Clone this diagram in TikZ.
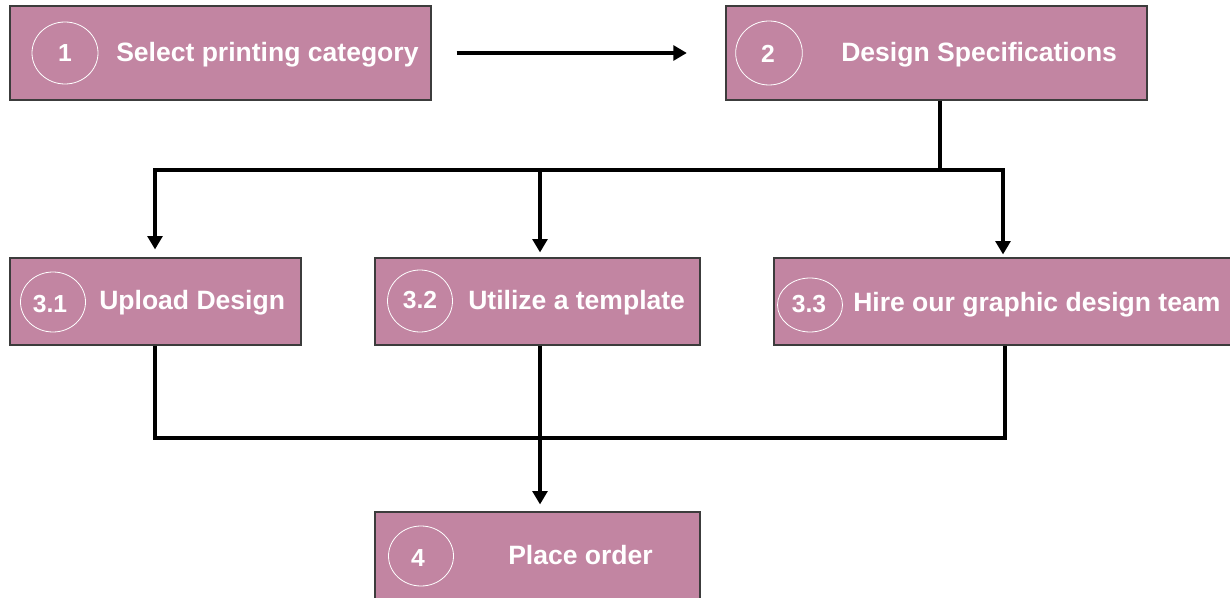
\documentclass[tikz,border=0pt]{standalone}
\usepackage{fontspec}
\setmainfont{Liberation Sans}
\usetikzlibrary{arrows.meta,shapes.geometric}
\definecolor{boxfill}{HTML}{C285A2}
\definecolor{boxline}{HTML}{3C3C3C}
\begin{document}
\begin{tikzpicture}[x=0.75pt,y=-0.75pt,
  stepbox/.style={draw=boxline,line width=0.8pt,fill=boxfill,rectangle,inner sep=0pt},
  numring/.style={draw=white,line width=0.6pt,ellipse,inner sep=0pt},
  numtext/.style={anchor=base,inner sep=0pt,text=white,font=\bfseries\fontsize{18.5}{20}\selectfont},
  steptext/.style={anchor=base west,inner sep=0pt,text=white,font=\bfseries\fontsize{19.9}{23}\selectfont},
  conn/.style={line width=3pt,black},
  arr/.style={conn,-{Triangle[length=10pt,width=11pt]}}]
\useasboundingbox (0,0) rectangle (1230,598);
\clip (0,0) rectangle (1230,598);
% boxes
\node[stepbox,minimum width=315.75pt,minimum height=70.5pt] (b1) at (220.5,53) {};
\node[stepbox,minimum width=315.75pt,minimum height=70.5pt] (b2) at (936.5,53) {};
\node[stepbox,minimum width=218.25pt,minimum height=65.25pt] (b31) at (155.5,301.5) {};
\node[stepbox,minimum width=243.75pt,minimum height=65.25pt] (b32) at (537.5,301.5) {};
\node[stepbox,minimum width=349.5pt,minimum height=65.25pt] (b33) at (1007,301.5) {};
\node[stepbox,minimum width=243.75pt,minimum height=75pt] (b4) at (537.5,562) {};
% rings
\node[numring,minimum width=49.5pt,minimum height=46.5pt] (r1) at (65,53) {};
\node[numring,minimum width=50pt,minimum height=48pt] (r2) at (769,53) {};
\node[numring,minimum width=48.75pt,minimum height=45pt] (r31) at (53,302) {};
\node[numring,minimum width=48.75pt,minimum height=46.5pt] (r32) at (420,301) {};
\node[numring,minimum width=48.75pt,minimum height=40.5pt] (r33) at (810,305) {};
\node[numring,minimum width=48.75pt,minimum height=45pt] (r4) at (421,556) {};
% numbers
\node[numtext] (n1) at (65,62) {1};
\node[numtext] (n2) at (768,63) {2};
\node[numtext] (n31) at (50,312) {3.1};
\node[numtext] (n32) at (420,309) {3.2};
\node[numtext] (n33) at (809,313) {3.3};
\node[numtext] (n4) at (418,566) {4};
% texts
\node[steptext] (t1) at (116,62) {Select printing category};
\node[steptext] (t2) at (841,62) {Design Specifications};
\node[steptext] (t31) at (99,310) {Upload Design};
\node[steptext] (t32) at (468,310) {Utilize a template};
\node[steptext] (t33) at (853,311) {Hire our graphic design team};
\node[steptext] (t4) at (508,564) {Place order};
% junctions
\coordinate (j2) at (940,170);
\coordinate (j31) at (155,170);
\coordinate (j32) at (540,170);
\coordinate (j33) at (1003,170);
\coordinate (k31) at (155,438);
\coordinate (k32) at (540,438);
\coordinate (k33) at (1005,438);
% connectors
\draw[arr,shorten <=18.75pt,shorten >=29pt] (b1.east) -- (b2.west);
\draw[conn] (j2 |- b2.south) -- (j2);
\draw[conn] ([xshift=-1.5pt]j31) -- ([xshift=1.5pt]j33);
\draw[arr,shorten >=6pt] (j31) -- (j31 |- b31.north);
\draw[arr,shorten >=3.75pt] (j32) -- (j32 |- b32.north);
\draw[arr,shorten >=2.25pt] (j33) -- (j33 |- b33.north);
\draw[conn] (k31 |- b31.south) -- (k31);
\draw[conn] (k33 |- b33.south) -- (k33);
\draw[conn] ([xshift=-1.5pt]k31) -- ([xshift=1.5pt]k33);
\draw[arr,shorten >=5.25pt] (k32 |- b32.south) -- (k32 |- b4.north);
\end{tikzpicture}
\end{document}
